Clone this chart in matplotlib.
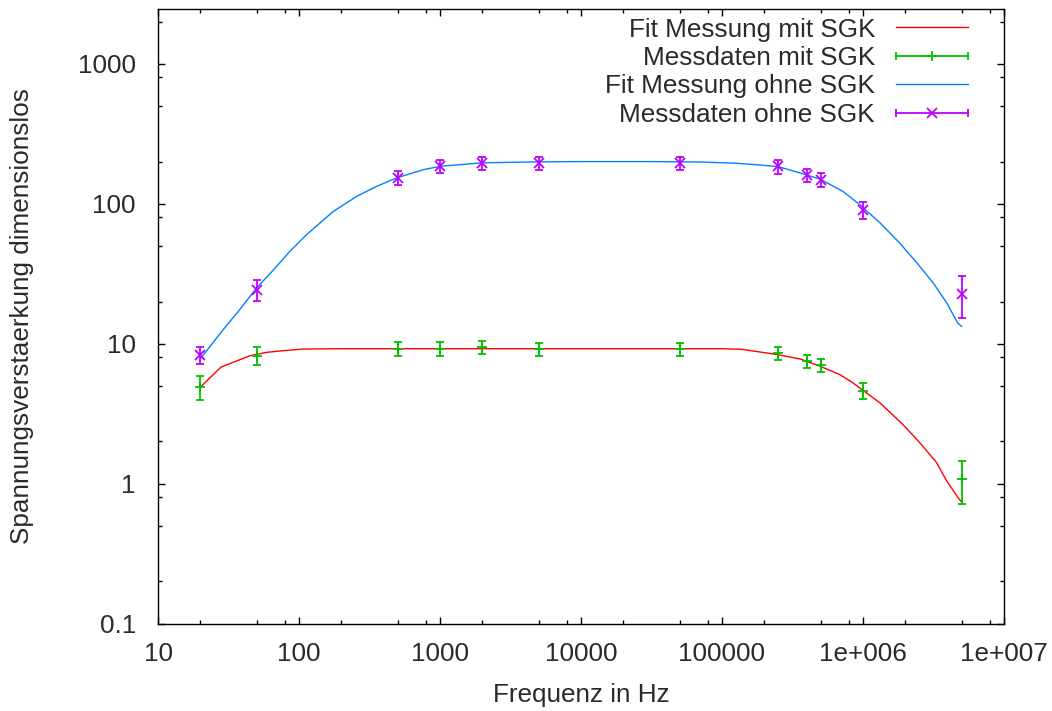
import matplotlib
matplotlib.use("Agg")
import matplotlib.pyplot as plt
from matplotlib.lines import Line2D
from matplotlib.legend_handler import HandlerBase
from matplotlib.container import ErrorbarContainer
from matplotlib.ticker import FixedLocator, FixedFormatter, LogLocator, NullFormatter

# ---------------- data ----------------
freq_meas = [20, 50, 500, 1000, 2000, 5000, 50000, 250000, 400000, 500000, 1e6, 5e6]

gain_mit = [4.9, 8.2, 9.2, 9.2, 9.4, 9.1, 9.1, 8.6, 7.5, 7.0, 4.6, 1.08]
err_mit = [0.95, 1.2, 1.0, 1.0, 1.0, 1.0, 1.0, 0.9, 0.8, 0.75, 0.6, 0.36]

gain_ohne = [8.3, 24.3, 153, 186, 196, 196, 196, 185, 160, 148, 90, 22.8]
err_ohne = [1.1, 4.2, 17, 20, 21, 21, 21, 21, 17, 17, 12, 7.5]

fit_mit_f = [20, 28, 45, 59, 77, 107, 200, 1000, 10000, 100000, 138000, 230000,
             357000, 495000, 687000, 850000, 984000, 1.32e6, 1.92e6, 2.54e6,
             3.33e6, 3.93e6, 4.74e6, 5e6]
fit_mit_v = [4.9, 6.8, 8.2, 8.67, 8.9, 9.15, 9.2, 9.2, 9.2, 9.2, 9.1, 8.45,
             7.78, 6.9, 6.0, 5.24, 4.69, 3.77, 2.64, 1.95,
             1.41, 1.04, 0.79, 0.74]

fit_ohne_f = [20, 29, 38, 50, 66, 86, 113, 175, 257, 355, 493, 762, 1000, 2000,
              5000, 10000, 30000, 70000, 120000, 176000, 250000, 357000, 495000,
              724000, 953000, 1.32e6, 1.83e6, 2.4e6, 3.16e6, 3.93e6, 4.7e6, 5e6]
fit_ohne_v = [7.8, 12.6, 17.5, 25, 33.7, 45.6, 60, 88, 113, 133, 153, 175, 185, 196,
              199, 200, 200, 198.5, 195, 190, 184, 166, 150,
              122, 98, 73, 52, 38, 27, 19.5, 14.0, 13.3]

x_ticks = [10, 100, 1000, 10000, 100000, 1e6, 1e7]
x_ticklabels = ["10", "100", "1000", "10000", "100000", "1e+006", "1e+007"]
y_ticks = [0.1, 1, 10, 100, 1000]
y_ticklabels = ["0.1", "1", "10", "100", "1000"]

labels = ["Fit Messung mit SGK", "Messdaten mit SGK",
          "Fit Messung ohne SGK", "Messdaten ohne SGK"]

RED = "#ff0000"
GREEN = "#00c000"
BLUE = "#0080ff"
PURPLE = "#c000ff"
TXT = "#2a2a2a"

plt.rcParams['font.family'] = ['Liberation Sans', 'DejaVu Sans']
FS = 18.8

fig = plt.figure(figsize=(10.52, 7.11), dpi=100)
AX_W = (1004 - 158)
AX_H = (623.5 - 9.3)
ax = fig.add_axes([158 / 1052, 1 - 623.5 / 711, AX_W / 1052, AX_H / 711])

l1, = ax.plot(fit_mit_f, fit_mit_v, color=RED, lw=1.0)
e1 = ax.errorbar(freq_meas, gain_mit, yerr=err_mit, fmt='+', color=GREEN,
                 ms=7, mew=1.3, elinewidth=1.3, capsize=3.2, capthick=1.3)
l2, = ax.plot(fit_ohne_f, fit_ohne_v, color=BLUE, lw=1.0)
e2 = ax.errorbar(freq_meas, gain_ohne, yerr=err_ohne, fmt='x', color=PURPLE,
                 ms=7, mew=1.3, elinewidth=1.3, capsize=3.2, capthick=1.3)

ax.set_xscale('log')
ax.set_yscale('log')
ax.set_xlim(10, 1e7)
ax.set_ylim(0.1, 2450)

ax.xaxis.set_major_locator(FixedLocator(x_ticks))
ax.xaxis.set_major_formatter(FixedFormatter(x_ticklabels))
ax.yaxis.set_major_locator(FixedLocator(y_ticks))
ax.yaxis.set_major_formatter(FixedFormatter(y_ticklabels))
ax.xaxis.set_minor_locator(LogLocator(base=10, subs=[2, 5, 8]))
ax.yaxis.set_minor_locator(LogLocator(base=10, subs=[2, 5, 8]))
ax.xaxis.set_minor_formatter(NullFormatter())
ax.yaxis.set_minor_formatter(NullFormatter())

ax.tick_params(which='both', direction='in', top=True, right=True, colors='black',
               labelcolor=TXT, labelsize=FS, width=1.0)
ax.tick_params(which='major', length=5)
ax.tick_params(which='minor', length=2.6)
ax.tick_params(axis='x', which='major', pad=13)
ax.tick_params(axis='y', which='major', pad=16)
for s in ax.spines.values():
    s.set_linewidth(1.0)
    s.set_color('black')

ax.set_xlabel("Frequenz in Hz", fontsize=FS, color=TXT)
ax.set_ylabel("Spannungsverstaerkung dimensionslos", fontsize=FS, color=TXT)
ax.xaxis.set_label_coords(0.5, -0.097)
ax.yaxis.set_label_coords(-0.146, 0.5)


class GnuErrHandler(HandlerBase):
    def create_artists(self, legend, orig_handle, xdescent, ydescent, width,
                       height, fontsize, trans):
        data_line = orig_handle[0]
        color = data_line.get_color()
        marker = data_line.get_marker()
        y = height / 2 - ydescent
        x0, x1 = -xdescent, width - xdescent
        line = Line2D([x0, x1], [y, y], color=color, lw=1.3)
        caps = Line2D([x0, x1], [y, y], color=color, marker='|', ls='none',
                      ms=6.4, mew=1.3)
        mk = Line2D([(x0 + x1) / 2], [y], color=color, marker=marker, ls='none',
                    ms=7, mew=1.3)
        for a in (line, caps, mk):
            a.set_transform(trans)
        return [line, caps, mk]


leg = ax.legend([l1, e1, l2, e2], labels, loc='upper right', markerfirst=False,
                frameon=False, fontsize=FS, handlelength=2.75, handletextpad=0.8,
                labelspacing=0.17, borderaxespad=0.3,
                bbox_to_anchor=(1 - 18 / AX_W, 1 + 10 / AX_H),
                handler_map={ErrorbarContainer: GnuErrHandler()})
for t in leg.get_texts():
    t.set_color(TXT)

fig.savefig("out.png", dpi=100)
